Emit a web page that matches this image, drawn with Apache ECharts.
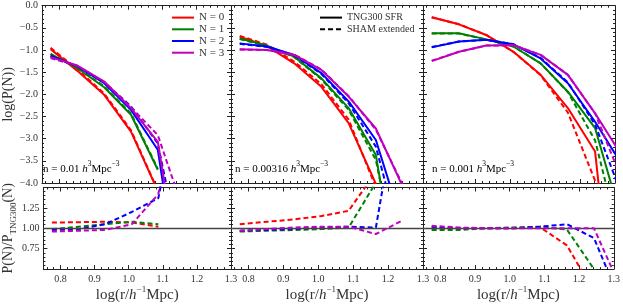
<!DOCTYPE html>
<html><head><meta charset="utf-8">
<script src="https://cdn.jsdelivr.net/npm/echarts@6/dist/echarts.min.js"></script>
<style>html,body{margin:0;padding:0;background:#fff}#c{width:623px;height:304px}</style>
</head><body><div id="c"></div>
<script>
// ---------- data ----------
const logR = [0.775, 0.853, 0.931, 1.009, 1.087, 1.165, 1.243, 1.321];
const nLabels = ['N = 0', 'N = 1', 'N = 2', 'N = 3'];
const densityLabels = ['0.01', '0.00316', '0.001'];
const sampleLabels = ['TNG300 SFR', 'SHAM extended'];
const xMajorTicks = [0.8, 0.9, 1.0, 1.1, 1.2, 1.3];
const xMinorTicks = [0.76, 0.78, 0.82, 0.84, 0.86, 0.88, 0.92, 0.94, 0.96, 0.98, 1.02, 1.04, 1.06, 1.08, 1.12, 1.14, 1.16, 1.18, 1.22, 1.24, 1.26, 1.28];
const ratioTickLabels = [0.75, 1.0, 1.25];

// panel 1: n = 0.01
const tng1_0 = [-0.98, -1.47, -2.01, -2.84, -4.18];
const sham1_0 = [-0.95, -1.44, -1.98, -2.81, -4.17];
const tng1_1 = [-1.09, -1.41, -1.84, -2.46, -3.70];
const sham1_1 = [-1.09, -1.40, -1.82, -2.43, -3.68];
const tng1_2 = [-1.13, -1.37, -1.75, -2.35, -3.25, -7.2];
const sham1_2 = [-1.14, -1.37, -1.73, -2.27, -3.11, -6.0];
const tng1_3 = [-1.16, -1.35, -1.71, -2.31, -3.07, -6.8];
const sham1_3 = [-1.18, -1.36, -1.72, -2.29, -2.92, -4.7];
const ratio1_0 = [1.07, 1.075, 1.08, 1.07, 1.02];
const ratio1_1 = [0.99, 1.02, 1.05, 1.08, 1.05];
const ratio1_2 = [0.98, 0.99, 1.05, 1.20, 1.37, 3.0];
const ratio1_3 = [0.96, 0.97, 0.98, 1.05, 1.42, 3.0];

// panel 2: n = 0.00316
const tng2_0 = [-0.70, -0.91, -1.30, -1.83, -2.65, -4.02];
const sham2_0 = [-0.68, -0.88, -1.26, -1.77, -2.57, -4.10];
const tng2_1 = [-0.74, -0.90, -1.15, -1.64, -2.31, -3.37, -7.0];
const sham2_1 = [-0.75, -0.91, -1.16, -1.66, -2.35, -3.48, -6.5];
const tng2_2 = [-0.85, -0.92, -1.11, -1.52, -2.16, -3.03, -5.0];
const sham2_2 = [-0.86, -0.93, -1.12, -1.54, -2.20, -3.18, -5.5];
const tng2_3 = [-0.98, -1.00, -1.11, -1.45, -2.05, -2.77, -4.10];
const sham2_3 = [-0.99, -1.00, -1.10, -1.44, -2.04, -2.80, -4.06];
const ratio2_0 = [1.05, 1.08, 1.11, 1.15, 1.215, 1.69];
const ratio2_1 = [0.96, 0.97, 0.98, 0.99, 1.01, 1.56];
const ratio2_2 = [0.97, 0.98, 0.99, 1.01, 1.02, 1.01, 2.93];
const ratio2_3 = [0.97, 0.99, 1.01, 1.02, 1.02, 0.93, 1.10];

// panel 3: n = 0.001
const tng3_0 = [-0.26, -0.42, -0.66, -1.04, -1.56, -2.31, -3.29, -9.0];
const sham3_0 = [-0.26, -0.42, -0.66, -1.04, -1.57, -2.41, -3.95, -9.0];
const tng3_1 = [-0.62, -0.62, -0.76, -0.92, -1.30, -1.94, -2.76, -4.9];
const sham3_1 = [-0.63, -0.63, -0.76, -0.92, -1.30, -1.95, -3.04, -5.5];
const tng3_2 = [-0.94, -0.81, -0.77, -0.87, -1.19, -1.75, -2.62, -3.6];
const sham3_2 = [-0.93, -0.81, -0.77, -0.87, -1.18, -1.73, -2.68, -4.3];
const tng3_3 = [-1.25, -1.04, -0.90, -0.89, -1.11, -1.56, -2.43, -3.4];
const sham3_3 = [-1.24, -1.04, -0.90, -0.89, -1.11, -1.56, -2.43, -3.95];
const ratio3_0 = [1.0, 1.0, 1.0, 1.0, 1.015, 0.79, 0.22];
const ratio3_1 = [0.98, 0.98, 1.0, 1.01, 1.02, 0.985, 0.5, 0.1];
const ratio3_2 = [1.02, 1.0, 1.0, 1.0, 1.02, 1.05, 0.88, 0.09];
const ratio3_3 = [1.03, 1.01, 1.0, 1.0, 1.0, 1.0, 1.0, 0.26];

const tngSets = [[tng1_0, tng1_1, tng1_2, tng1_3], [tng2_0, tng2_1, tng2_2, tng2_3], [tng3_0, tng3_1, tng3_2, tng3_3]];
const shamSets = [[sham1_0, sham1_1, sham1_2, sham1_3], [sham2_0, sham2_1, sham2_2, sham2_3], [sham3_0, sham3_1, sham3_2, sham3_3]];
const ratioSets = [[ratio1_0, ratio1_1, ratio1_2, ratio1_3], [ratio2_0, ratio2_1, ratio2_2, ratio2_3], [ratio3_0, ratio3_1, ratio3_2, ratio3_3]];

// ---------- style ----------
const colors = ['#ff0000', '#008000', '#0000ff', '#bf00bf'];
const FONT = 'Liberation Serif';
const AX = '#222';
const colLeft = [39, 231, 423];
const colW = 192;
const rowTop = [5.7, 187.5];
const rowH = [177.3, 87];
const dash = [5, 3];

const grids = [], xAxes = [], yAxes = [], series = [];
const minus = v => (v < 0 ? '\u2212' : '') + Math.abs(v).toFixed(1);

for (let r = 0; r < 2; r++) {
  for (let c = 0; c < 3; c++) {
    const g = r * 3 + c;
    grids.push({ left: colLeft[c], top: rowTop[r], width: colW, height: rowH[r] });
    const xBase = { type: 'value', gridIndex: g, min: 0.75, max: 1.3, splitLine: { show: false } };
    xAxes.push(Object.assign({}, xBase, {
      position: 'bottom',
      axisLine: { show: true, onZero: false, lineStyle: { color: AX, width: 1 } },
      axisTick: { show: true, inside: true, length: 4, customValues: xMajorTicks, lineStyle: { color: AX } },
      axisLabel: { show: r === 1, customValues: xMajorTicks, formatter: v => v.toFixed(1), fontFamily: FONT, fontSize: 10, color: '#333', margin: 5 },
      name: r === 1 ? '{t|log(r/}{i|h}{s|\u22121}{t|Mpc)}' : '',
      nameLocation: 'middle', nameGap: 13,
      nameTextStyle: {
        fontFamily: FONT, color: '#333',
        rich: {
          t: { fontFamily: FONT, fontSize: 15, color: '#333', lineHeight: 18, verticalAlign: 'bottom' },
          i: { fontFamily: FONT, fontSize: 15, fontStyle: 'italic', color: '#333', lineHeight: 18, verticalAlign: 'bottom' },
          s: { fontFamily: FONT, fontSize: 9, color: '#333', lineHeight: 9, verticalAlign: 'top' }
        }
      }
    }));
    xAxes.push(Object.assign({}, xBase, {
      position: 'bottom', axisLine: { show: false, onZero: false },
      axisTick: { show: true, inside: true, length: 2, customValues: xMinorTicks, lineStyle: { color: AX } },
      axisLabel: { show: false }
    }));
    xAxes.push(Object.assign({}, xBase, {
      position: 'top',
      axisLine: { show: true, onZero: false, lineStyle: { color: AX, width: 1 } },
      axisTick: { show: true, inside: true, length: 4, customValues: xMajorTicks, lineStyle: { color: AX } },
      axisLabel: { show: false }
    }));
    xAxes.push(Object.assign({}, xBase, {
      position: 'top', axisLine: { show: false, onZero: false },
      axisTick: { show: true, inside: true, length: 2, customValues: xMinorTicks, lineStyle: { color: AX } },
      axisLabel: { show: false }
    }));

    const yBase = r === 0
      ? { type: 'value', gridIndex: g, min: -4, max: 0, interval: 0.5, splitLine: { show: false } }
      : { type: 'value', gridIndex: g, min: 0.5, max: 1.5, interval: 0.25, splitLine: { show: false } };
    const leftLabel = r === 0
      ? { show: c === 0, formatter: minus, fontFamily: FONT, fontSize: 10, color: '#333', margin: 4 }
      : { show: c === 0, customValues: ratioTickLabels, formatter: v => v.toFixed(2), fontFamily: FONT, fontSize: 10, color: '#333', margin: 4 };
    let yName = '';
    if (c === 0) yName = r === 0 ? '{t|log(P(N))}' : '{t|P(N)/P}{b|TNG300}{t|(N)}';
    yAxes.push(Object.assign({}, yBase, {
      position: 'left',
      axisLine: { show: true, onZero: false, lineStyle: { color: AX, width: 1 } },
      axisTick: { show: true, inside: true, length: 4, lineStyle: { color: AX } },
      minorTick: { show: true, splitNumber: 5, length: 2, lineStyle: { color: AX } },
      axisLabel: leftLabel,
      name: yName, nameLocation: 'middle', nameRotate: 90, nameGap: 24,
      nameTextStyle: {
        fontFamily: FONT, color: '#333',
        rich: {
          t: { fontFamily: FONT, fontSize: 14, color: '#333', lineHeight: 17, verticalAlign: 'top' },
          b: { fontFamily: FONT, fontSize: 9, color: '#333', lineHeight: 9, verticalAlign: 'bottom' }
        }
      }
    }));
    yAxes.push(Object.assign({}, yBase, {
      position: 'right',
      axisLine: { show: true, onZero: false, lineStyle: { color: AX, width: 1 } },
      axisTick: { show: true, inside: true, length: 4, lineStyle: { color: AX } },
      minorTick: { show: true, splitNumber: 5, length: 2, lineStyle: { color: AX } },
      axisLabel: { show: false }
    }));
  }
}

const toData = arr => arr.map((v, i) => [logR[i], v]);

for (let c = 0; c < 3; c++) {
  series.push({
    type: 'line', name: 'ref' + c, data: [], xAxisIndex: (3 + c) * 4, yAxisIndex: (3 + c) * 2, z: 1,
    markLine: { silent: true, symbol: 'none', label: { show: false }, lineStyle: { color: '#444', width: 1.3, type: 'solid' }, data: [{ yAxis: 1 }] }
  });
  for (let n = 0; n < 4; n++) {
    series.push({
      type: 'line', name: nLabels[n], data: toData(tngSets[c][n]),
      xAxisIndex: c * 4, yAxisIndex: c * 2, showSymbol: false, symbol: 'none',
      lineStyle: { color: colors[n], width: 2 }, itemStyle: { color: colors[n] }, z: 2 + n
    });
    series.push({
      type: 'line', name: 'sham' + c + n, data: toData(shamSets[c][n]),
      xAxisIndex: c * 4, yAxisIndex: c * 2, showSymbol: false, symbol: 'none',
      lineStyle: { color: colors[n], width: 2, type: dash }, itemStyle: { color: colors[n] }, z: 2 + n
    });
    series.push({
      type: 'line', name: 'ratio' + c + n, data: toData(ratioSets[c][n]),
      xAxisIndex: (3 + c) * 4, yAxisIndex: (3 + c) * 2, showSymbol: false, symbol: 'none',
      lineStyle: { color: colors[n], width: 2, type: dash }, itemStyle: { color: colors[n] }, z: 2 + n
    });
  }
}
series.push({ type: 'line', name: sampleLabels[0], data: [], xAxisIndex: 4, yAxisIndex: 2, symbol: 'none', lineStyle: { color: '#000', width: 2 }, itemStyle: { color: '#000' } });
series.push({ type: 'line', name: sampleLabels[1], data: [], xAxisIndex: 4, yAxisIndex: 2, symbol: 'none', lineStyle: { color: '#000', width: 2, type: dash }, itemStyle: { color: '#000' } });

const annRich = {
  a: { fontFamily: FONT, fontSize: 11, color: '#333', lineHeight: 15, verticalAlign: 'bottom' },
  i: { fontFamily: FONT, fontSize: 11, fontStyle: 'italic', color: '#333', lineHeight: 15, verticalAlign: 'bottom' },
  s: { fontFamily: FONT, fontSize: 7.5, color: '#333', lineHeight: 8, verticalAlign: 'top' }
};
const annX = [43, 235, 432];
const graphics = densityLabels.map((d, c) => ({
  type: 'text', left: annX[c], top: 160,
  style: { text: '{a|n = ' + d + ' }{i|h}{s|3}{a|Mpc}{s|\u22123}', rich: annRich }
}));

const legendCommon = { orient: 'vertical', itemWidth: 22, itemHeight: 14, itemGap: 0.5, padding: 0, selectedMode: false, itemStyle: { opacity: 0 } };
const option = {
  animation: false,
  backgroundColor: '#fff',
  grid: grids, xAxis: xAxes, yAxis: yAxes, series: series,
  legend: [
    Object.assign({ data: nLabels, left: 171, top: 12, textStyle: { fontFamily: FONT, fontSize: 11, color: '#333' } }, legendCommon),
    Object.assign({ data: sampleLabels, left: 319, top: 12, textStyle: { fontFamily: FONT, fontSize: 10, color: '#333' } }, legendCommon)
  ],
  graphic: graphics
};
const chart = echarts.init(document.getElementById('c'), null, { renderer: 'canvas' });
chart.setOption(option);
</script></body></html>
